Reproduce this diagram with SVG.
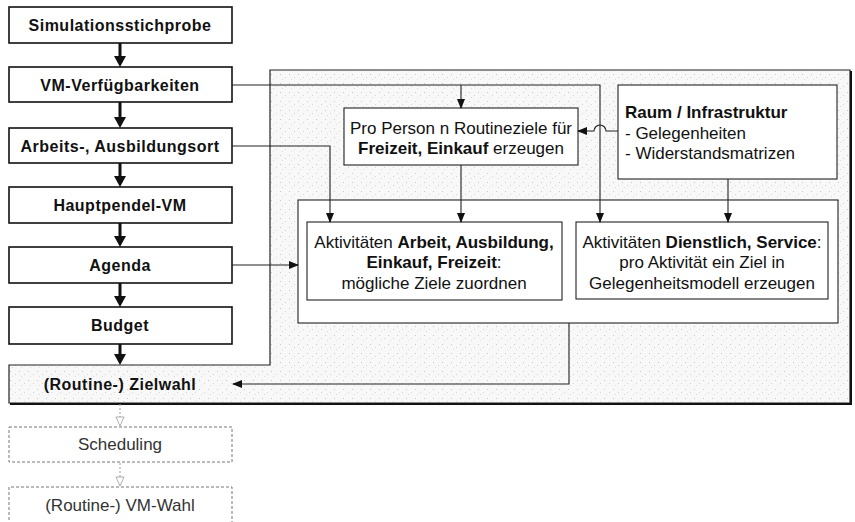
<svg xmlns="http://www.w3.org/2000/svg" width="855" height="522" viewBox="0 0 855 522">
<style>
.lb{fill:#fff;stroke:#111;stroke-width:1.6}
.ib{fill:#fff;stroke:#222;stroke-width:1.1}
.db{fill:#fff;stroke:#777;stroke-width:1;stroke-dasharray:3 2}
.t{font-family:"Liberation Sans",Arial,sans-serif;font-size:16px;font-weight:bold;fill:#111;text-anchor:middle;letter-spacing:0.5px}
.tg{font-family:"Liberation Sans",Arial,sans-serif;font-size:17px;fill:#333;text-anchor:middle}
.s{font-family:"Liberation Sans",Arial,sans-serif;font-size:17px;fill:#111}
.c{text-anchor:middle}
.b{font-weight:bold}
.cn{fill:none;stroke:#222;stroke-width:1.1}
.th{fill:none;stroke:#111;stroke-width:3}
.dh{fill:none;stroke:#999;stroke-width:1;stroke-dasharray:2 2}
</style>
<defs>
<pattern id="spk" width="9" height="9" patternUnits="userSpaceOnUse">
<rect width="9" height="9" fill="#f8f8f8"/>
<rect x="1" y="2" width="1" height="1" fill="#c8c8c8"/>
<rect x="6" y="5" width="1" height="1" fill="#d4d4d4"/>
<rect x="3" y="7" width="1" height="1" fill="#dcdcdc"/>
</pattern>
<marker id="ar" markerWidth="10" markerHeight="8" refX="9" refY="4" orient="auto" markerUnits="userSpaceOnUse">
<path d="M0,0 L10,4 L0,8 Z" fill="#111"/>
</marker>
</defs>
<rect width="855" height="522" fill="#fff"/>
<g id="frame">
<path d="M270,70 L850,70 L850,403 L9,403 L9,365 L270,365 Z" fill="url(#spk)" stroke="#222" stroke-width="1.2"/>
<path d="M851,71 L851,404 L10,404" fill="none" stroke="#111" stroke-width="2"/>
<text class="t" x="120" y="390">(Routine-) Zielwahl</text>
</g>
<g id="container"><rect class="ib" x="298" y="200" width="540" height="123"/></g>
<g id="n1"><rect class="lb" x="9" y="7" width="223" height="36"/><text class="t" x="120" y="31">Simulationsstichprobe</text></g>
<g id="n2"><rect class="lb" x="9" y="67" width="223" height="35"/><text class="t" x="120" y="91">VM-Verfügbarkeiten</text></g>
<g id="n3"><rect class="lb" x="9" y="128" width="223" height="35"/><text class="t" x="120" y="152">Arbeits-, Ausbildungsort</text></g>
<g id="n4"><rect class="lb" x="9" y="187" width="223" height="36"/><text class="t" x="120" y="211">Hauptpendel-VM</text></g>
<g id="n5"><rect class="lb" x="9" y="247" width="223" height="36"/><text class="t" x="120" y="271" letter-spacing="1.5">Agenda</text></g>
<g id="n6"><rect class="lb" x="9" y="307" width="223" height="37"/><text class="t" x="120" y="331">Budget</text></g>
<g id="n8"><rect class="db" x="9" y="427" width="223" height="35"/><text class="tg" x="120" y="450">Scheduling</text></g>
<g id="n9"><path d="M9,530 L9,487 L232,487 L232,530" class="db"/><text class="tg" x="120" y="511">(Routine-) VM-Wahl</text></g>
<g id="pro"><rect class="ib" x="344" y="108" width="234" height="57"/>
<text class="s c" x="461" y="134">Pro Person n Routineziele für</text>
<text class="s c" x="461" y="154"><tspan class="b">Freizeit, Einkauf</tspan> erzeugen</text></g>
<g id="raum"><rect class="ib" x="618" y="85" width="219" height="94"/>
<text class="s" x="625" y="118"><tspan class="b">Raum / Infrastruktur</tspan></text>
<text class="s" x="625" y="139">- Gelegenheiten</text>
<text class="s" x="625" y="159">- Widerstandsmatrizen</text></g>
<g id="akt1"><rect class="ib" x="307" y="222" width="255" height="78"/>
<text class="s c" x="434" y="248">Aktivitäten <tspan class="b">Arbeit, Ausbildung,</tspan></text>
<text class="s c" x="434" y="268"><tspan class="b">Einkauf, Freizeit</tspan>:</text>
<text class="s c" x="434" y="289">mögliche Ziele zuordnen</text></g>
<g id="akt2"><rect class="ib" x="576" y="222" width="252" height="77"/>
<text class="s c" x="702" y="248">Aktivitäten <tspan class="b">Dienstlich, Service</tspan>:</text>
<text class="s c" x="702" y="268">pro Aktivität ein Ziel in</text>
<text class="s c" x="702" y="289">Gelegenheitsmodell erzeugen</text></g>
<g id="connectors">
<path class="th" d="M120,43 V57"/><path d="M114,56 L126,56 L120,67 Z" fill="#111"/>
<path class="th" d="M120,102 V118"/><path d="M114,117 L126,117 L120,128 Z" fill="#111"/>
<path class="th" d="M120,163 V177"/><path d="M114,176 L126,176 L120,187 Z" fill="#111"/>
<path class="th" d="M120,223 V237"/><path d="M114,236 L126,236 L120,247 Z" fill="#111"/>
<path class="th" d="M120,283 V297"/><path d="M114,296 L126,296 L120,307 Z" fill="#111"/>
<path class="th" d="M120,344 V355"/><path d="M114,354 L126,354 L120,365 Z" fill="#111"/>
<path class="dh" d="M120,404 V418"/><path d="M116,417 L124,417 L120,426 Z" fill="#fff" stroke="#999" stroke-width="0.8"/>
<path class="dh" d="M120,463 V478"/><path d="M116,477 L124,477 L120,486 Z" fill="#fff" stroke="#999" stroke-width="0.8"/>
<path class="cn" d="M232,85 H600 V222" marker-end="url(#ar)"/>
<path class="cn" d="M461,85 V108" marker-end="url(#ar)"/>
<path class="cn" d="M232,146 H330 V222" marker-end="url(#ar)"/>
<path class="cn" d="M461,165 V222" marker-end="url(#ar)"/>
<path class="cn" d="M728,179 V222" marker-end="url(#ar)"/>
<path class="cn" d="M618,131 H606 A6,6 0 0 0 594,131 H578" marker-end="url(#ar)"/>
<path class="cn" d="M232,265 H298" marker-end="url(#ar)"/>
<path class="cn" d="M569,323 V384 H233" marker-end="url(#ar)"/>
</g>
</svg>
